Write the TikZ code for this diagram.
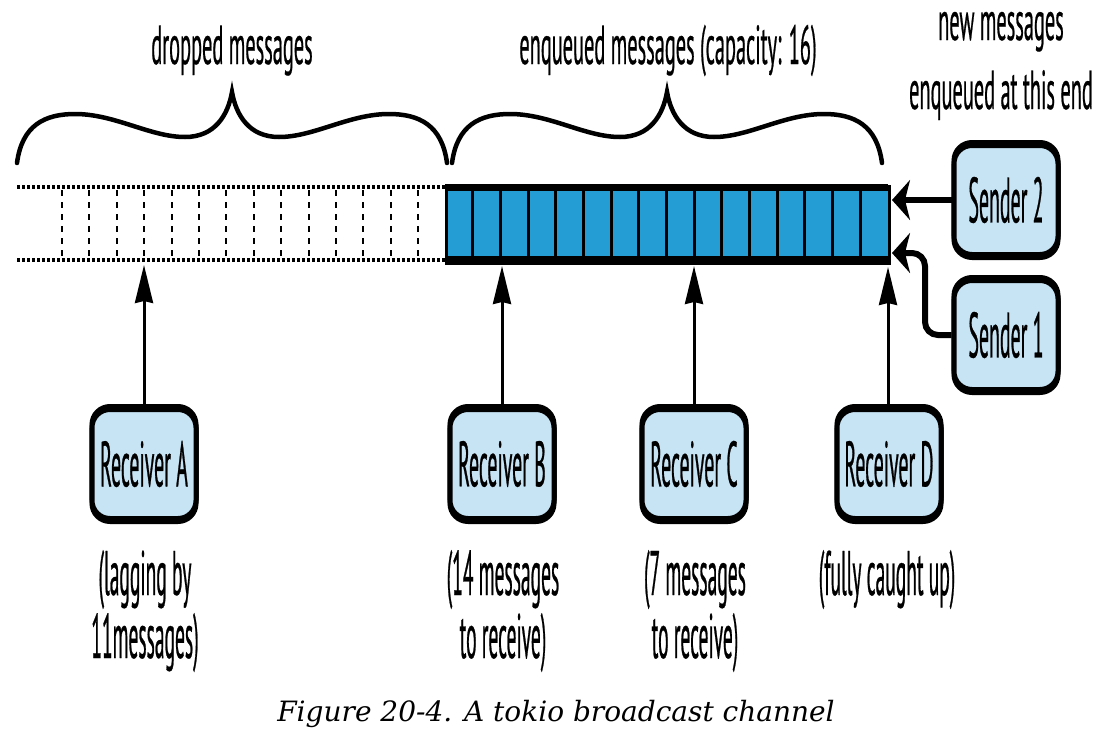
\documentclass[tikz,border=0pt]{standalone}
\usepackage{fontspec}
\usetikzlibrary{arrows.meta}
\newfontfamily\cndb[FakeStretch=0.31,FakeBold=0.4]{PT Sans}
\newfontfamily\cndt[FakeStretch=0.37,FakeBold=0.4]{PT Sans}
\newfontfamily\capfnt{DejaVu Serif}
\definecolor{qblue}{RGB}{35,157,212}
\definecolor{lblue}{RGB}{199,228,245}
\tikzset{
  boxstyle/.style={draw=black, line width=5pt, fill=lblue, rounded corners=18pt,
    minimum width=104pt, minimum height=109pt, inner sep=0pt,
    preaction={draw=black, fill=black, line width=5pt, transform canvas={yshift=3pt}},
    preaction={draw=black, fill=black, line width=5pt, transform canvas={yshift=-3pt}},
    font=\cndb\fontsize{64}{66}\selectfont},
  lbl/.style={align=center, inner sep=0pt, font=\cndb\fontsize{63}{63}\selectfont},
  toplbl/.style={align=center, inner sep=0pt, font=\cndt\fontsize{55}{69}\selectfont},
  recvarrow/.style={line width=3pt, -{Stealth[length=38pt,width=18pt,inset=2pt]}},
  sendarrow/.style={line width=6pt, -{Stealth[length=18pt,width=40pt,inset=5pt]}},
  bracestyle/.style={line width=4.5pt, line cap=round},
  rail/.style={line width=3.5pt, dash pattern=on 3pt off 2pt},
  dropsep/.style={line width=2pt, dash pattern=on 6pt off 6pt},
}
\begin{document}
\begin{tikzpicture}[x=1pt,y=-1pt]
\useasboundingbox (0,0) rectangle (1106,742);
% braces
\foreach \bx in {17,452}{
  \begin{scope}[shift={(\bx,0)}]
    \draw[bracestyle] (0,163) .. controls (5,125) and (28,114) .. (58,114)
      .. controls (98,114) and (133,137) .. (168,137)
      .. controls (198,137) and (211,115) .. (215,92)
      .. controls (219,115) and (232,137) .. (262,137)
      .. controls (297,137) and (332,114) .. (372,114)
      .. controls (402,114) and (425,125) .. (430,163);
  \end{scope}
}
% top labels
\node[toplbl, anchor=base] (tdrop) at (232,64) {dropped messages};
\node[toplbl, anchor=base] (tenq) at (668,64) {enqueued messages (capacity: 16)};
\node[toplbl, anchor=base] (tnew) at (1001,109) {new messages\\enqueued at this end};
% dropped region
\draw[rail] (17,187) -- (445,187);
\draw[rail] (17,260) -- (445,260);
\foreach \i in {0,...,13}{
  \draw[dropsep] ({62+27.4*\i},190) -- ({62+27.4*\i},258);
}
% queue
\node[draw=black, fill=qblue, line width=3pt, inner sep=0pt, minimum width=443pt,
  minimum height=77pt, anchor=north west] (queue) at (445,185) {};
\fill[black] (445,184) rectangle (888,191);
\fill[black] (445,256) rectangle (888,263);
\foreach \i in {1,...,15}{
  \draw[line width=3pt] ({445+443/16*\i},186) -- ({445+443/16*\i},261);
}
% senders
\node[boxstyle] (S2) at (1006,200) {Sender 2};
\node[boxstyle] (S1) at (1006,335) {Sender 1};
\coordinate (t2) at (892,200);
\coordinate (t1) at (892,253);
\coordinate (s1turn) at (925,253);
\draw[sendarrow] (S2.west) -- (t2);
\draw[sendarrow, rounded corners=13pt] (S1.west) -| (s1turn) -- (t1);
% receivers
\node[boxstyle] (RA) at (144,464) {Receiver A};
\node[boxstyle] (RB) at (502,464) {Receiver B};
\node[boxstyle] (RC) at (694,464) {Receiver C};
\node[boxstyle] (RD) at (889,464) {Receiver D};
\coordinate (ta) at (144,265);
\coordinate (tb) at (502,266);
\coordinate (tc) at (694,266);
\coordinate (td) at (888,267);
\draw[recvarrow] (RA.north) -- (ta);
\draw[recvarrow] (RB.north) -- (tb);
\draw[recvarrow] (RC.north) -- (tc);
\draw[recvarrow] (RD.north -| td) -- (td);
% receiver labels
\node[lbl, anchor=base] (LA) at (145,658) {(lagging by\\11messages)};
\node[lbl, anchor=base] (LB) at (503,658) {(14 messages\\to receive)};
\node[lbl, anchor=base] (LC) at (695,658) {(7 messages\\to receive)};
\node[lbl, anchor=base] (LD) at (887,595) {(fully caught up)};
% caption
\node[font=\capfnt\itshape\fontsize{28}{30}\selectfont, anchor=base] (cap) at (556,721)
  {Figure 20-4. A tokio broadcast channel};
\end{tikzpicture}
\end{document}
